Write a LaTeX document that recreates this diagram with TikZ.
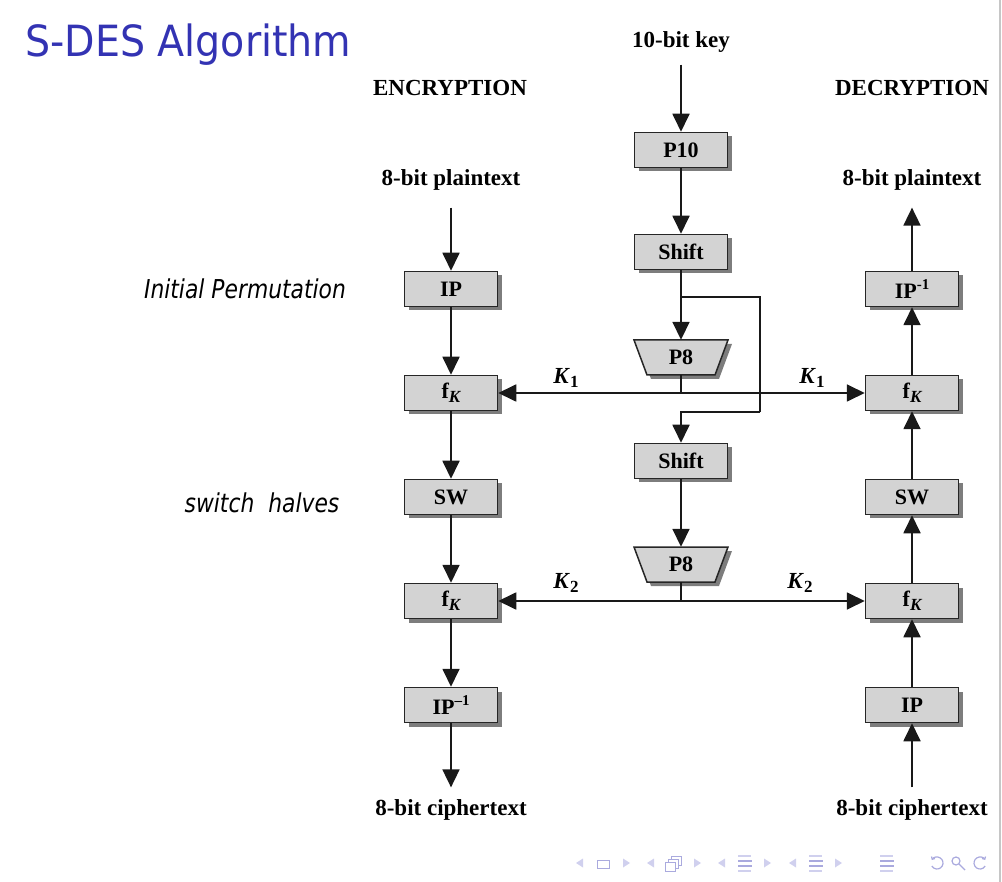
\documentclass[tikz,border=0pt]{standalone}
\usepackage{fontspec}
\setmainfont{Liberation Serif}
\newfontfamily\slidefont{DejaVu Sans}
\usetikzlibrary{arrows.meta,shadows}
\definecolor{boxgray}{RGB}{211,211,211}
\definecolor{shadowgray}{RGB}{125,125,125}
\definecolor{titleblue}{RGB}{51,51,179}
\definecolor{navdark}{RGB}{170,170,222}
\definecolor{navlight}{RGB}{208,208,238}
\newcommand{\lowtxt}[1]{\raisebox{-0.35ex}{\fontsize{17}{17}\selectfont #1}}
\newcommand{\hightxt}[1]{\raisebox{0.85ex}{\fontsize{15}{15}\selectfont #1}}
\tikzset{block/.style = {shape=rectangle,draw=black!85,line width=1.5pt,fill=boxgray,minimum width=93pt,minimum height=35pt,inner sep=0pt,font=\fontsize{22}{22}\selectfont\bfseries,drop shadow={shadow xshift=4pt,shadow yshift=-4pt,fill=shadowgray,opacity=1}}}
\tikzset{p8block/.style = {shape=rectangle,minimum width=94pt,minimum height=35pt,inner sep=0pt,font=\fontsize{22}{22}\selectfont\bfseries}}
\tikzset{textlbl/.style = {inner sep=0pt,font=\fontsize{23}{23}\selectfont\bfseries}}
\tikzset{sidenote/.style = {inner sep=0pt,font=\slidefont\itshape\fontsize{26}{26}\selectfont}}
\tikzset{wire/.style = {line width=1.8pt,black!90}}
\tikzset{edge/.style = {wire,-{Triangle[width=17pt,length=18pt]}}}
% trapezium drawn under a P8 node, around its centre
\newcommand{\trapbox}[1]{%
	\fill[shadowgray] ([shift={(-43,-13.5)}]#1) -- ([shift={(51,-13.5)}]#1) -- ([shift={(38,21.5)}]#1) -- ([shift={(-30,21.5)}]#1) -- cycle;
	\filldraw[fill=boxgray,draw=black!85,line width=1.5pt] ([shift={(-47,-17.5)}]#1) -- ([shift={(47,-17.5)}]#1) -- ([shift={(34,17.5)}]#1) -- ([shift={(-34,17.5)}]#1) -- cycle;}

\begin{document}
\begin{tikzpicture}[x=1pt,y=-1pt]
		\useasboundingbox (0,0) rectangle (1002,882);
		\draw[gray!45,line width=1.5pt] (1000,0) -- (1000,882);
		% title and notes
		\node[anchor=west,inner sep=0pt,text=titleblue] (title) at (25,45) {\scalebox{0.92}[1]{\slidefont\fontsize{43}{43}\selectfont S-DES Algorithm}};
		\node[sidenote] (ipnote) at (245,289) {\scalebox{0.84}[1]{Initial Permutation}};
		\node[sidenote] (swnote) at (262,503) {\scalebox{0.84}[1]{switch\ \ halves}};
		% texts
		\node[textlbl] (key) at (681,42) {10-bit key};
		\node[textlbl] (enc) at (450,88) {ENCRYPTION};
		\node[textlbl] (dec) at (912,88) {DECRYPTION};
		\node[textlbl] (eplain) at (451,180) {8-bit plaintext};
		\node[textlbl] (dplain) at (912,180) {8-bit plaintext};
		\node[textlbl] (ecipher) at (451,810) {8-bit ciphertext};
		\node[textlbl] (dcipher) at (912,810) {8-bit ciphertext};
		% key generation
		\coordinate (p8ac) at (681,357.5);
		\coordinate (p8bc) at (681,564.5);
		\trapbox{p8ac}
		\trapbox{p8bc}
		\node[block] (p10) at (681,150) {P10};
		\node[block] (sh1) at (681,252) {Shift};
		\node[p8block] (p8a) at (p8ac) {P8};
		\node[block] (sh2) at (681,461) {Shift};
		\node[p8block] (p8b) at (p8bc) {P8};
		% encryption
		\node[block] (eip) at (451,289) {IP};
		\node[block] (efk1) at (451,393) {f\lowtxt{\itshape K}};
		\node[block] (esw) at (451,497) {SW};
		\node[block] (efk2) at (451,601) {f\lowtxt{\itshape K}};
		\node[block] (eipi) at (451,705) {IP\hightxt{–1}};
		% decryption
		\node[block] (dipi) at (912,289) {IP\hightxt{-1}};
		\node[block] (dfk1) at (912,393) {f\lowtxt{\itshape K}};
		\node[block] (dsw) at (912,497) {SW};
		\node[block] (dfk2) at (912,601) {f\lowtxt{\itshape K}};
		\node[block] (dip) at (912,705) {IP};
		% subkey labels
		\node[textlbl] (k1l) at (566,378) {\textit{K}\lowtxt{1}};
		\node[textlbl] (k1r) at (812,378) {\textit{K}\lowtxt{1}};
		\node[textlbl] (k2l) at (566,583) {\textit{K}\lowtxt{2}};
		\node[textlbl] (k2r) at (800,583) {\textit{K}\lowtxt{2}};
		\coordinate (br1) at (681,297);
		\coordinate (br2) at (760,412);
		\coordinate (k1) at (681,393);
		\coordinate (k2) at (681,601);
		%edges
		\draw[edge,shorten <=12pt] (key) -- (p10);
		\draw[edge] (p10) -- (sh1);
		\draw[edge] (sh1) -- (p8a);
		\draw[wire] (br1) -| (br2);
		\draw[edge] (br2) -| (sh2);
		\draw[edge] (sh2) -- (p8b);
		\draw[wire] (p8a) -- (k1);
		\draw[edge] (k1) -- (efk1);
		\draw[edge] (k1) -- (dfk1);
		\draw[wire] (p8b) -- (k2);
		\draw[edge] (k2) -- (efk2);
		\draw[edge] (k2) -- (dfk2);
		\draw[edge,shorten <=17pt] (eplain) -- (eip);
		\draw[edge] (eip) -- (efk1);
		\draw[edge] (efk1) -- (esw);
		\draw[edge] (esw) -- (efk2);
		\draw[edge] (efk2) -- (eipi);
		\draw[edge,shorten >=12pt] (eipi) -- (ecipher);
		\draw[edge,shorten <=12pt] (dcipher) -- (dip);
		\draw[edge] (dip) -- (dfk2);
		\draw[edge] (dfk2) -- (dsw);
		\draw[edge] (dsw) -- (dfk1);
		\draw[edge] (dfk1) -- (dipi);
		\draw[edge,shorten >=17pt] (dipi) -- (dplain);
		% navigation symbols
		\foreach \x in {580,651,722,793}
			\fill[navlight] (\x-4,863) -- (\x+3,858.5) -- (\x+3,867.5) -- cycle;
		\foreach \x in {626,697,767,838}
			\fill[navlight] (\x+4,863) -- (\x-3,858.5) -- (\x-3,867.5) -- cycle;
		\draw[navdark,line width=1pt] (597,860) rectangle (609,868);
		\draw[navdark,line width=1pt,fill=white] (671,856) rectangle (681,865);
		\draw[navdark,line width=1pt,fill=white] (668,859) rectangle (678,868);
		\draw[navdark,line width=1pt,fill=white] (665,862) rectangle (675,871);
		\foreach \x in {738,809,880} {
			\draw[navlight,line width=1.6pt] (\x,856) -- (\x+13,856);
			\draw[navdark,line width=1.6pt] (\x,861) -- (\x+14,861);
			\draw[navdark,line width=1.6pt] (\x,866) -- (\x+14,866);
			\draw[navlight,line width=1.6pt] (\x,871) -- (\x+13,871);
		}
		\draw[navdark,line width=1.2pt,{Straight Barb[length=2pt]}-] (937,863) ++(-150:6) arc[start angle=-150,end angle=150,radius=6];
		\draw[navdark,line width=1.2pt] (956,861) circle[radius=4];
		\draw[navdark,line width=1.4pt] (959,864) -- (965,870);
		\draw[navdark,line width=1.2pt,{Straight Barb[length=2pt]}-] (980,863) ++(-30:6) arc[start angle=-30,end angle=-330,radius=6];
	\end{tikzpicture}
\end{document}
